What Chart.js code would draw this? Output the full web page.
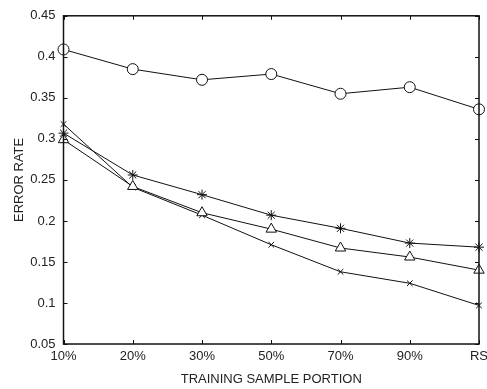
<!DOCTYPE html>
<html>
<head>
<meta charset="utf-8">
<script src="https://cdn.jsdelivr.net/npm/chart.js@4/dist/chart.umd.min.js"></script>
<style>
  html, body { margin: 0; padding: 0; background: #fff; }
  #box { width: 487px; height: 389px; }
</style>
</head>
<body>
<div id="box"><canvas id="graficoErro"></canvas></div>
<script>
var categorias = ['10%', '20%', '30%', '50%', '70%', '90%', 'RS'];
var serieCirculo = [0.409, 0.385, 0.372, 0.379, 0.355, 0.363, 0.336];
var serieEstrela = [0.307, 0.256, 0.232, 0.207, 0.191, 0.173, 0.168];
var serieTriangulo = [0.299, 0.242, 0.210, 0.190, 0.167, 0.156, 0.140];
var serieX = [0.318, 0.241, 0.207, 0.171, 0.138, 0.124, 0.097];
var ticksY = [0.05, 0.1, 0.15, 0.2, 0.25, 0.3, 0.35, 0.4, 0.45];

var fonte = '"Liberation Sans", Arial, Helvetica, sans-serif';

function serie(dados, estilo, raio) {
	return {
		data: dados,
		borderColor: '#111',
		borderWidth: 1,
		pointStyle: estilo,
		pointRadius: raio,
		pointBorderColor: '#111',
		pointBorderWidth: 1,
		pointBackgroundColor: '#fff',
		tension: 0,
		fill: false
	};
}

/* Moldura com marcas para dentro nos quatro lados. */
var moldura = {
	id: 'moldura',
	afterDatasetsDraw: function(chart) {
		var ctx = chart.ctx, a = chart.chartArea;
		var sx = chart.scales.x, sy = chart.scales.y;
		ctx.save();
		ctx.strokeStyle = '#111';
		ctx.lineWidth = 1;
		ctx.beginPath();
		for (var i = 0; i < categorias.length; i++) {
			var px = Math.round(sx.getPixelForValue(i)) + 0.5;
			ctx.moveTo(px, a.bottom); ctx.lineTo(px, a.bottom - 4);
			ctx.moveTo(px, a.top); ctx.lineTo(px, a.top + 4);
		}
		ticksY.forEach(function(v) {
			var py = Math.round(sy.getPixelForValue(v)) + 0.5;
			ctx.moveTo(a.left, py); ctx.lineTo(a.left + 4, py);
			ctx.moveTo(a.right, py); ctx.lineTo(a.right - 4, py);
		});
		ctx.stroke();
		ctx.lineWidth = 1.5;
		ctx.strokeRect(a.left, a.top, a.right - a.left, a.bottom - a.top);
		ctx.restore();
	}
};

var ctx = document.getElementById('graficoErro').getContext('2d');
var grafico = new Chart(ctx, {
	type: 'line',
	data: {
		labels: categorias,
		datasets: [
			serie(serieCirculo, 'circle', 5.5),
			serie(serieEstrela, 'star', 5),
			serie(serieTriangulo, 'triangle', 6),
			serie(serieX, 'crossRot', 4)
		]
	},
	options: {
		responsive: true,
		maintainAspectRatio: false,
		animation: false,
		layout: { padding: { top: 15, right: 0, left: 12, bottom: 2 } },
		plugins: {
			legend: { display: false },
			tooltip: { enabled: false }
		},
		scales: {
			x: {
				offset: false,
				grid: { display: false, drawTicks: false },
				border: { display: false },
				afterFit: function(escala) {
					// deixa o rótulo RS passar da borda, como no original
					escala.paddingRight = 8;
					escala.height = 43;
				},
				ticks: {
					color: '#222',
					font: { family: fonte, size: 13 },
					maxRotation: 0,
					padding: 5
				},
				title: {
					display: true,
					text: 'TRAINING SAMPLE PORTION',
					color: '#222',
					font: { family: fonte, size: 13 },
					padding: { top: 6, bottom: 0 }
				}
			},
			y: {
				min: 0.05,
				max: 0.45,
				grid: { display: false, drawTicks: false },
				border: { display: false },
				afterFit: function(escala) {
					escala.width = 51.5;
				},
				afterBuildTicks: function(escala) {
					escala.ticks = ticksY.map(function(v) { return { value: v }; });
				},
				ticks: {
					color: '#222',
					font: { family: fonte, size: 13 },
					padding: 8,
					callback: function(v) { return String(parseFloat(v.toFixed(2))); }
				},
				title: {
					display: true,
					text: 'ERROR RATE',
					color: '#222',
					font: { family: fonte, size: 13 },
					padding: { top: 0, bottom: 6 }
				}
			}
		}
	},
	plugins: [moldura]
});
</script>
</body>
</html>
